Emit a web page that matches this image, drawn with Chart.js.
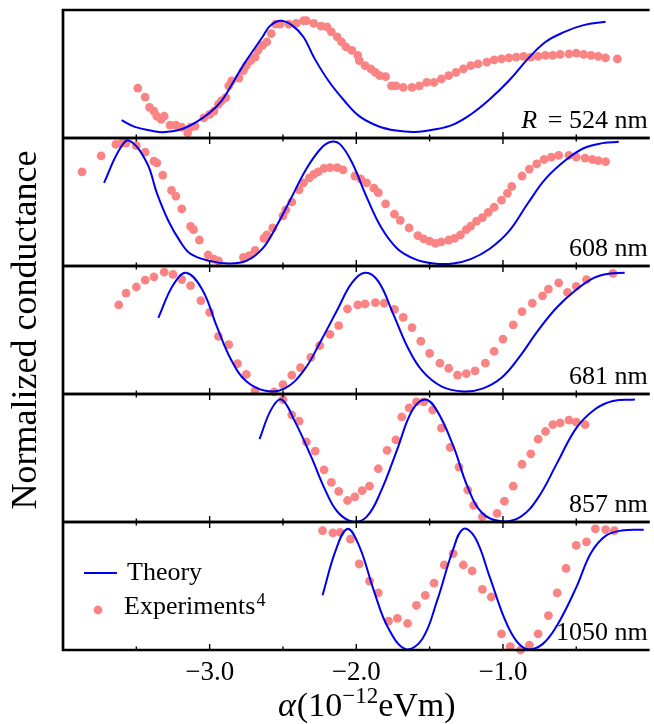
<!DOCTYPE html>
<html>
<head>
<meta charset="utf-8">
<script src="https://cdn.jsdelivr.net/npm/chart.js@4/dist/chart.umd.min.js"></script>
<style>
  html, body { margin: 0; padding: 0; background: #fff; overflow: hidden; }
</style>
</head>
<body>
<canvas id="condChart" width="654" height="724"></canvas>
<script>
// panel radii (top to bottom)
const radii = ["524", "608", "681", "857", "1050"];

// x ticks (alpha, 10^-12 eVm)
const xLabelTicks = [-3, -2, -1];
const xMinorTicks = [-3.5, -2.5, -1.5, -0.5];

// theory curves, [alpha, normalized conductance]
const theory524 = [[-3.60,0.14],[-3.51,0.087],[-3.38,0.053],[-3.32,0.045],[-3.20,0.066],[-3.10,0.118],[-3.00,0.197],[-2.92,0.289],[-2.86,0.395],[-2.80,0.513],[-2.75,0.605],[-2.64,0.789],[-2.59,0.874],[-2.52,0.916],[-2.44,0.882],[-2.36,0.789],[-2.29,0.632],[-2.19,0.447],[-2.08,0.289],[-1.98,0.171],[-1.85,0.092],[-1.73,0.058],[-1.60,0.047],[-1.47,0.066],[-1.34,0.105],[-1.22,0.184],[-1.09,0.303],[-0.96,0.447],[-0.83,0.618],[-0.71,0.750],[-0.58,0.829],[-0.45,0.882],[-0.30,0.908]];
const theory608 = [[-3.72,0.65],[-3.62,0.9],[-3.55,0.98],[-3.43,0.81],[-3.36,0.57],[-3.28,0.35],[-3.20,0.19],[-3.13,0.095],[-3.00,0.04],[-2.87,0.02],[-2.75,0.04],[-2.64,0.135],[-2.54,0.32],[-2.44,0.54],[-2.34,0.76],[-2.24,0.92],[-2.17,0.97],[-2.11,0.95],[-2.03,0.81],[-1.93,0.54],[-1.83,0.30],[-1.72,0.135],[-1.60,0.054],[-1.47,0.02],[-1.34,0.02],[-1.22,0.054],[-1.09,0.135],[-0.96,0.27],[-0.83,0.49],[-0.71,0.68],[-0.58,0.82],[-0.45,0.92],[-0.32,0.96],[-0.21,0.97]];
const theory681 = [[-3.35,0.595],[-3.25,0.85],[-3.16,0.947],[-3.05,0.815],[-2.95,0.524],[-2.85,0.26],[-2.75,0.10],[-2.62,0.026],[-2.49,0.042],[-2.36,0.18],[-2.24,0.418],[-2.13,0.656],[-2.03,0.868],[-1.94,0.947],[-1.85,0.88],[-1.75,0.63],[-1.65,0.365],[-1.55,0.18],[-1.42,0.06],[-1.27,0.02],[-1.14,0.042],[-1.01,0.127],[-0.89,0.286],[-0.76,0.497],[-0.63,0.68],[-0.50,0.815],[-0.38,0.907],[-0.28,0.94],[-0.17,0.947]];
const theory857 = [[-2.66,0.647],[-2.58,0.88],[-2.51,0.957],[-2.42,0.788],[-2.31,0.516],[-2.21,0.245],[-2.13,0.082],[-2.03,0.005],[-1.93,0.04],[-1.83,0.245],[-1.72,0.57],[-1.62,0.87],[-1.53,0.957],[-1.45,0.87],[-1.34,0.598],[-1.24,0.272],[-1.14,0.068],[-1.01,0.005],[-0.88,0.04],[-0.76,0.19],[-0.63,0.462],[-0.50,0.734],[-0.37,0.883],[-0.25,0.946],[-0.10,0.957]];
const theory1050 = [[-2.23,0.427],[-2.14,0.78],[-2.06,0.946],[-1.98,0.812],[-1.88,0.462],[-1.78,0.167],[-1.66,0.005],[-1.55,0.086],[-1.45,0.382],[-1.34,0.785],[-1.27,0.946],[-1.19,0.879],[-1.09,0.57],[-0.99,0.247],[-0.91,0.073],[-0.83,0.005],[-0.73,0.046],[-0.63,0.194],[-0.50,0.489],[-0.40,0.758],[-0.30,0.892],[-0.19,0.933],[-0.04,0.94]];

// experiment points
const exp524 = [[-3.49,0.39],[-3.44,0.32],[-3.41,0.24],[-3.38,0.21],[-3.36,0.17],[-3.33,0.145],[-3.31,0.17],[-3.27,0.10],[-3.23,0.10],[-3.19,0.084],[-3.15,0.04],[-3.13,0.084],[-3.10,0.092],[-3.04,0.158],[-3.00,0.184],[-2.97,0.21],[-2.94,0.263],[-2.92,0.29],[-2.89,0.316],[-2.87,0.408],[-2.85,0.447],[-2.80,0.468],[-2.77,0.526],[-2.75,0.566],[-2.72,0.605],[-2.69,0.632],[-2.67,0.684],[-2.64,0.724],[-2.61,0.75],[-2.58,0.816],[-2.55,0.889],[-2.52,0.889],[-2.46,0.889],[-2.41,0.895],[-2.36,0.916],[-2.34,0.916],[-2.29,0.895],[-2.24,0.874],[-2.20,0.868],[-2.17,0.829],[-2.13,0.789],[-2.10,0.75],[-2.07,0.711],[-2.03,0.684],[-1.99,0.645],[-1.98,0.605],[-1.94,0.566],[-1.90,0.539],[-1.87,0.513],[-1.84,0.487],[-1.80,0.479],[-1.76,0.408],[-1.73,0.408],[-1.68,0.395],[-1.62,0.395],[-1.57,0.408],[-1.52,0.434],[-1.47,0.434],[-1.42,0.461],[-1.37,0.487],[-1.32,0.513],[-1.27,0.539],[-1.22,0.566],[-1.17,0.579],[-1.11,0.592],[-1.06,0.611],[-1.01,0.618],[-0.96,0.626],[-0.91,0.632],[-0.86,0.637],[-0.81,0.632],[-0.76,0.637],[-0.71,0.645],[-0.66,0.645],[-0.61,0.653],[-0.55,0.658],[-0.50,0.663],[-0.45,0.653],[-0.40,0.645],[-0.35,0.637],[-0.30,0.626],[-0.22,0.618]];
const exp608 = [[-3.87,0.735],[-3.74,0.86],[-3.64,0.95],[-3.60,0.96],[-3.57,0.96],[-3.50,0.94],[-3.44,0.89],[-3.38,0.82],[-3.36,0.805],[-3.32,0.71],[-3.26,0.59],[-3.23,0.546],[-3.19,0.446],[-3.13,0.31],[-3.11,0.284],[-3.07,0.203],[-3.01,0.086],[-2.97,0.054],[-2.94,0.04],[-2.77,0.068],[-2.73,0.081],[-2.69,0.122],[-2.63,0.216],[-2.61,0.243],[-2.57,0.297],[-2.50,0.392],[-2.48,0.438],[-2.44,0.5],[-2.39,0.595],[-2.36,0.649],[-2.32,0.689],[-2.29,0.716],[-2.26,0.735],[-2.22,0.762],[-2.18,0.768],[-2.13,0.768],[-2.09,0.751],[-2.01,0.703],[-1.97,0.681],[-1.93,0.649],[-1.88,0.608],[-1.85,0.573],[-1.80,0.486],[-1.74,0.405],[-1.70,0.357],[-1.64,0.297],[-1.58,0.238],[-1.54,0.211],[-1.50,0.195],[-1.46,0.176],[-1.42,0.189],[-1.37,0.203],[-1.33,0.216],[-1.29,0.243],[-1.25,0.284],[-1.22,0.311],[-1.18,0.351],[-1.14,0.378],[-1.10,0.419],[-1.06,0.459],[-1.01,0.514],[-0.97,0.568],[-0.94,0.622],[-0.87,0.703],[-0.82,0.757],[-0.77,0.797],[-0.72,0.832],[-0.67,0.851],[-0.62,0.865],[-0.55,0.865],[-0.50,0.851],[-0.44,0.843],[-0.39,0.832],[-0.35,0.824],[-0.30,0.816]];
const exp681 = [[-3.62,0.696],[-3.57,0.788],[-3.50,0.836],[-3.44,0.889],[-3.38,0.915],[-3.31,0.952],[-3.25,0.934],[-3.19,0.894],[-3.13,0.847],[-3.06,0.73],[-3.00,0.638],[-2.94,0.45],[-2.87,0.386],[-2.81,0.238],[-2.75,0.153],[-2.69,0.026],[-2.56,0.016],[-2.50,0.074],[-2.44,0.148],[-2.38,0.206],[-2.31,0.286],[-2.25,0.378],[-2.18,0.466],[-2.12,0.534],[-2.06,0.664],[-1.99,0.696],[-1.94,0.704],[-1.87,0.714],[-1.81,0.709],[-1.74,0.661],[-1.68,0.598],[-1.62,0.519],[-1.56,0.413],[-1.50,0.317],[-1.43,0.241],[-1.37,0.201],[-1.31,0.148],[-1.25,0.159],[-1.19,0.18],[-1.12,0.241],[-1.06,0.333],[-1.00,0.429],[-0.93,0.54],[-0.87,0.643],[-0.80,0.709],[-0.73,0.767],[-0.69,0.82],[-0.62,0.868],[-0.56,0.794],[-0.50,0.841],[-0.43,0.894],[-0.25,0.942]];
const exp857 = [[-2.50,0.957],[-2.44,0.837],[-2.39,0.788],[-2.34,0.625],[-2.28,0.554],[-2.22,0.408],[-2.17,0.31],[-2.12,0.239],[-2.06,0.168],[-2.01,0.196],[-1.96,0.245],[-1.91,0.28],[-1.85,0.416],[-1.79,0.56],[-1.73,0.641],[-1.69,0.821],[-1.64,0.891],[-1.59,0.938],[-1.54,0.938],[-1.48,0.875],[-1.42,0.734],[-1.36,0.582],[-1.30,0.429],[-1.24,0.25],[-1.20,0.13],[-1.14,0.041],[-1.04,0.068],[-0.99,0.163],[-0.93,0.28],[-0.87,0.451],[-0.81,0.533],[-0.76,0.647],[-0.71,0.707],[-0.66,0.761],[-0.61,0.774],[-0.55,0.796],[-0.50,0.78],[-0.44,0.761]];
const exp1050 = [[-2.23,0.933],[-2.16,0.914],[-2.11,0.919],[-2.04,0.866],[-1.98,0.672],[-1.91,0.538],[-1.85,0.446],[-1.78,0.226],[-1.72,0.247],[-1.65,0.207],[-1.59,0.349],[-1.53,0.427],[-1.47,0.522],[-1.40,0.664],[-1.34,0.753],[-1.27,0.664],[-1.21,0.618],[-1.14,0.473],[-1.08,0.414],[-1.01,0.126],[-0.95,0.027],[-0.88,0.0],[-0.82,0.038],[-0.76,0.126],[-0.69,0.269],[-0.63,0.446],[-0.57,0.637],[-0.50,0.817],[-0.43,0.844],[-0.37,0.946],[-0.30,0.941],[-0.24,0.933]];

const theoryData = [theory524, theory608, theory681, theory857, theory1050];
const expData = [exp524, exp608, exp681, exp857, exp1050];

const serif = "'Liberation Serif', 'Times New Roman', serif";
const blue = "#0000ee";
const salmon = "#fa8484";

const toXY = arr => arr.map(p => ({ x: p[0], y: p[1] }));

// build datasets, one axis per panel
const datasets = [];
radii.forEach((r, i) => {
  datasets.push({
    label: "Theory " + r,
    data: toXY(theoryData[i]),
    yAxisID: "y" + i,
    borderColor: blue,
    borderWidth: 2,
    pointRadius: 0,
    tension: 0.4,
    fill: false,
  });
  datasets.push({
    label: "Experiments " + r,
    data: toXY(expData[i]),
    yAxisID: "y" + i,
    showLine: false,
    pointRadius: 4.4,
    pointBorderWidth: 0,
    pointBackgroundColor: salmon,
    clip: false,
  });
});

const scales = {
  x: {
    type: "linear",
    min: -4,
    max: 0,
    grid: { display: false, drawTicks: false },
    border: { display: false },
    afterBuildTicks: s => { s.ticks = xLabelTicks.map(v => ({ value: v })); },
    afterFit: s => { s.height = 74; },
    ticks: {
      autoSkip: false,
      maxRotation: 0,
      padding: 7,
      color: "#000",
      font: { family: serif, size: 27 },
      callback: v => "\u2212" + Math.abs(v).toFixed(1),
    },
  },
};
// stacked y axes: the last one defined sits on top, so add bottom panel first
for (let i = radii.length - 1; i >= 0; i--) {
  scales["y" + i] = {
    type: "linear",
    position: "left",
    stack: "panels",
    stackWeight: 1,
    min: 0,
    max: 1,
    ticks: { display: false },
    grid: { display: false, drawTicks: false },
    border: { display: false },
    afterFit: s => { s.width = 0; },
  };
}

// frames, inward ticks, panel labels, legend and axis titles
const framePlugin = {
  id: "frames",
  afterDraw(chart) {
    const ctx = chart.ctx;
    const xs = chart.scales.x;
    const area = chart.chartArea;
    ctx.save();
    ctx.strokeStyle = "#000";
    ctx.fillStyle = "#000";

    radii.forEach((r, i) => {
      const ys = chart.scales["y" + i];
      ctx.lineWidth = 1.4;
      [[xLabelTicks, 6], [xMinorTicks, 3.5]].forEach(([vals, len]) => {
        vals.forEach(v => {
          const px = xs.getPixelForValue(v);
          ctx.beginPath();
          ctx.moveTo(px, ys.bottom);
          ctx.lineTo(px, ys.bottom - len);
          if (i > 0) {
            ctx.moveTo(px, ys.top);
            ctx.lineTo(px, ys.top + len);
          }
          ctx.stroke();
        });
      });
      ctx.lineWidth = 2.5;
      ctx.beginPath();
      ctx.moveTo(area.left - 1, ys.top);
      ctx.lineTo(area.right, ys.top);
      ctx.moveTo(area.left - 1, ys.bottom);
      ctx.lineTo(area.right, ys.bottom);
      ctx.stroke();

      // radius label
      const y = ys.bottom - 10;
      const rest = (i === 0 ? " = " : "") + r + " nm";
      ctx.font = "26px " + serif;
      ctx.textAlign = "right";
      ctx.textBaseline = "alphabetic";
      ctx.fillText(rest, area.right - 2, y);
      if (i === 0) {
        const w = ctx.measureText(rest).width;
        ctx.font = "italic 26px " + serif;
        ctx.fillText("R", area.right - 6 - w, y);
      }
    });

    // left frame
    ctx.lineWidth = 2.7;
    ctx.beginPath();
    ctx.moveTo(area.left, area.top - 1);
    ctx.lineTo(area.left, area.bottom + 1);
    ctx.stroke();

    // legend inside bottom panel
    const yb = chart.scales["y" + (radii.length - 1)];
    ctx.strokeStyle = blue;
    ctx.lineWidth = 2;
    ctx.beginPath();
    ctx.moveTo(area.left + 21, yb.top + 51);
    ctx.lineTo(area.left + 54, yb.top + 51);
    ctx.stroke();
    ctx.fillStyle = salmon;
    ctx.beginPath();
    ctx.arc(area.left + 35, yb.top + 88, 4.4, 0, Math.PI * 2);
    ctx.fill();
    ctx.fillStyle = "#000";
    ctx.textAlign = "left";
    ctx.font = "26px " + serif;
    ctx.fillText("Theory", area.left + 64, yb.top + 58);
    ctx.fillText("Experiments", area.left + 61, yb.top + 92);
    const ew = ctx.measureText("Experiments").width;
    ctx.font = "18px " + serif;
    ctx.fillText("4", area.left + 62 + ew, yb.top + 84);

    // x title with superscript, only alpha in italics
    const parts = [["\u03b1", 34, 0, "italic "], ["(10", 34, 0, ""], ["\u221212", 23, -13, ""], ["eVm)", 34, 0, ""]];
    let total = 0;
    parts.forEach(p => { ctx.font = p[3] + p[1] + "px " + serif; total += ctx.measureText(p[0]).width; });
    let tx = (area.left + area.right) / 2 + 10 - total / 2;
    const baseY = 716;
    parts.forEach(p => {
      ctx.font = p[3] + p[1] + "px " + serif;
      ctx.fillText(p[0], tx, baseY + p[2]);
      tx += ctx.measureText(p[0]).width + (p[3] ? 1 : 0);
    });

    // y title
    ctx.translate(36, (area.top + area.bottom) / 2);
    ctx.rotate(-Math.PI / 2);
    ctx.textAlign = "center";
    ctx.font = "36px " + serif;
    ctx.fillText("Normalized conductance", 0, 0);
    ctx.restore();
  },
};

const condChart = new Chart(document.getElementById("condChart").getContext("2d"), {
  type: "line",
  data: { datasets: datasets },
  options: {
    responsive: false,
    animation: false,
    devicePixelRatio: 1,
    layout: { padding: { left: 63, top: 10, right: 0, bottom: 0 } },
    plugins: { legend: { display: false }, tooltip: { enabled: false } },
    scales: scales,
  },
  plugins: [framePlugin],
});
</script>
</body>
</html>
